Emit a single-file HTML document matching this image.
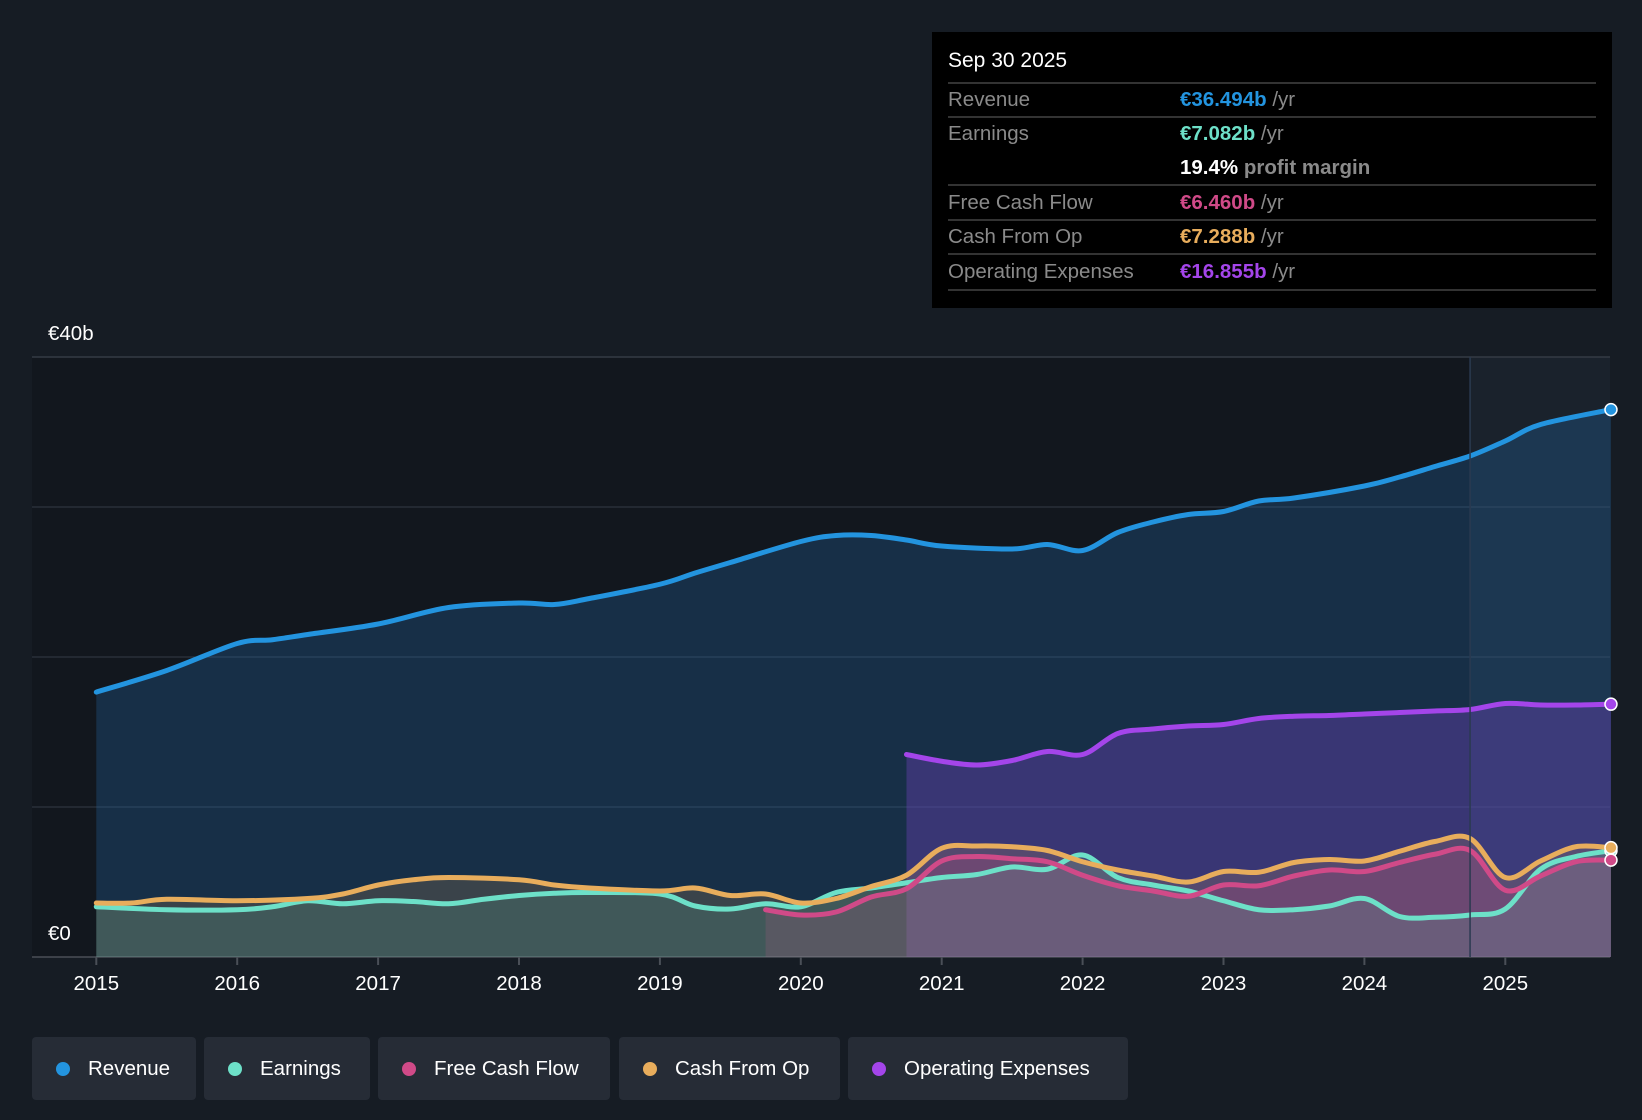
<!DOCTYPE html>
<html><head><meta charset="utf-8"><style>
body{margin:0;width:1642px;height:1120px;background:#161c24;font-family:"Liberation Sans",sans-serif;overflow:hidden;position:relative}
#tip{position:absolute;left:932px;top:32px;width:680px;height:276px;background:#000}
.row{position:absolute;left:16px;width:648px;border-top:2px solid #333;color:#8a8a8a;font-size:20.5px}
.row span.v{position:absolute;left:232px;font-weight:bold}
.yr{color:#8a8a8a;font-weight:normal}
#legend{position:absolute;top:1037px;left:0}
.lg{position:absolute;height:63px;background:#262c36;border-radius:4px;color:#fff;font-size:20.5px;line-height:63px}
.lg i{position:absolute;left:24px;top:25px;width:14px;height:14px;border-radius:50%}
.lg b{position:absolute;left:56px;font-weight:normal}
</style></head><body>
<svg id="chart" width="1642" height="1120" style="position:absolute;left:0;top:0"></svg>
<div id="tip">
<div style="position:absolute;left:16px;top:17px;color:#fff;font-size:21px">Sep 30 2025</div>
<div class="row" style="top:50px;height:32px;line-height:32px">Revenue<span class="v" style="color:#2394df">€36.494b <span class="yr">/yr</span></span></div>
<div class="row" style="top:84px;height:66px;line-height:32px">Earnings<span class="v" style="color:#6de0c8;top:0">€7.082b <span class="yr">/yr</span></span><span class="v" style="color:#fff;top:34px">19.4% <span class="yr" style="font-weight:bold">profit margin</span></span></div>
<div class="row" style="top:152px;height:34px;line-height:34px">Free Cash Flow<span class="v" style="color:#d04a88">€6.460b <span class="yr">/yr</span></span></div>
<div class="row" style="top:187px;height:32px;line-height:32px">Cash From Op<span class="v" style="color:#e8ad5c">€7.288b <span class="yr">/yr</span></span></div>
<div class="row" style="top:221px;height:34px;line-height:34px;border-bottom:2px solid #333">Operating Expenses<span class="v" style="color:#a445ea">€16.855b <span class="yr">/yr</span></span></div>
</div>
<div id="legend">
<div class="lg" style="left:32px;width:164px"><i style="background:#2394df"></i><b>Revenue</b></div>
<div class="lg" style="left:204px;width:166px"><i style="background:#6de0c8"></i><b>Earnings</b></div>
<div class="lg" style="left:378px;width:232px"><i style="background:#d04a88"></i><b>Free Cash Flow</b></div>
<div class="lg" style="left:619px;width:221px"><i style="background:#e8ad5c"></i><b>Cash From Op</b></div>
<div class="lg" style="left:848px;width:280px"><i style="background:#a445ea"></i><b>Operating Expenses</b></div>
</div>
<script>
const revT=[2015,2015.5,2016,2016.25,2016.5,2017,2017.5,2018,2018.25,2018.5,2019,2019.25,2019.5,2020,2020.25,2020.5,2020.75,2021,2021.5,2021.75,2022,2022.25,2022.5,2022.75,2023,2023.25,2023.5,2024,2024.25,2024.5,2024.75,2025,2025.25,2025.75];
const revV=[17.66,19.1,20.9,21.15,21.5,22.2,23.3,23.6,23.5,23.9,24.85,25.6,26.3,27.7,28.1,28.1,27.8,27.4,27.2,27.5,27.1,28.3,29.0,29.5,29.7,30.4,30.6,31.4,32.0,32.7,33.4,34.4,35.5,36.494];
const opxT=[2020.75,2021,2021.25,2021.5,2021.75,2022,2022.25,2022.5,2022.75,2023,2023.25,2023.5,2023.75,2024,2024.25,2024.5,2024.75,2025,2025.25,2025.5,2025.75];
const opxV=[13.5,13.05,12.8,13.1,13.7,13.5,14.9,15.2,15.4,15.5,15.9,16.05,16.1,16.2,16.3,16.4,16.5,16.9,16.8,16.8,16.855];
const earnT=[2015,2015.5,2016,2016.25,2016.5,2016.75,2017,2017.25,2017.5,2017.75,2018,2018.25,2018.5,2019,2019.25,2019.5,2019.75,2020,2020.25,2020.5,2020.75,2021,2021.25,2021.5,2021.75,2022,2022.25,2022.5,2022.75,2023,2023.25,2023.5,2023.75,2024,2024.25,2024.5,2024.75,2025,2025.25,2025.5,2025.75];
const earnV=[3.35,3.15,3.15,3.35,3.75,3.55,3.75,3.7,3.55,3.85,4.1,4.25,4.3,4.2,3.4,3.2,3.55,3.35,4.3,4.6,4.95,5.3,5.5,6.0,5.85,6.8,5.3,4.8,4.4,3.75,3.15,3.15,3.4,3.9,2.7,2.65,2.8,3.2,5.85,6.7,7.082];
const cfoT=[2015,2015.25,2015.5,2016,2016.5,2016.75,2017,2017.25,2017.5,2018,2018.25,2018.5,2019,2019.25,2019.5,2019.75,2020,2020.25,2020.5,2020.75,2021,2021.25,2021.5,2021.75,2022,2022.25,2022.5,2022.75,2023,2023.25,2023.5,2023.75,2024,2024.25,2024.5,2024.75,2025,2025.25,2025.5,2025.75];
const cfoV=[3.6,3.6,3.85,3.75,3.9,4.2,4.8,5.15,5.3,5.15,4.8,4.6,4.4,4.6,4.1,4.2,3.6,3.9,4.7,5.45,7.25,7.4,7.35,7.1,6.35,5.8,5.4,5.0,5.7,5.65,6.3,6.5,6.4,7.05,7.7,7.9,5.3,6.4,7.35,7.288];
const fcfT=[2019.75,2020,2020.25,2020.5,2020.75,2021,2021.25,2021.5,2021.75,2022,2022.25,2022.5,2022.75,2023,2023.25,2023.5,2023.75,2024,2024.25,2024.5,2024.75,2025,2025.25,2025.5,2025.75];
const fcfV=[3.15,2.8,3.0,4.0,4.55,6.4,6.7,6.55,6.35,5.45,4.75,4.4,4.05,4.8,4.75,5.4,5.8,5.7,6.3,6.85,7.1,4.45,5.4,6.35,6.46];
const xTicks=[2015,2016,2017,2018,2019,2020,2021,2022,2023,2024,2025];
const yGrid=[0,10,20,30,40];

const L=32,R=1610,T=357,B=957;
const X=t=>96.3+(t-2015)*140.9;
const Y=v=>B-v/40*(B-T);
const svg=document.getElementById('chart');const NS='http://www.w3.org/2000/svg';
function mk(tag,attrs,name){const e=document.createElementNS(NS,tag);for(const k in attrs)e.setAttribute(k,attrs[k]);


svg.appendChild(e);return e;}
mk('rect',{x:L,y:T,width:X(2024.75)-L,height:B-T,fill:'#12171e'},'plot-background');
mk('rect',{x:X(2024.75),y:T,width:R-X(2024.75),height:B-T,fill:'#1a222c'},'forecast-highlight');
yGrid.forEach(v=>{mk('line',{x1:L,x2:R,y1:Y(v),y2:Y(v),stroke:v==0?'#4a4f57':'#343b45','stroke-width':v==0||v==40?1.5:1},'gridline-'+v);});
function path(ts,vs){const p=ts.map((t,i)=>[X(t),Y(vs[i])]);let d='M'+p[0][0]+','+p[0][1];
for(let i=0;i<p.length-1;i++){const p0=p[Math.max(0,i-1)],p1=p[i],p2=p[i+1],p3=p[Math.min(p.length-1,i+2)];
const c1=[p1[0]+(p2[0]-p0[0])/6,p1[1]+(p2[1]-p0[1])/6],c2=[p2[0]-(p3[0]-p1[0])/6,p2[1]-(p3[1]-p1[1])/6];
d+=' C'+c1[0]+','+c1[1]+' '+c2[0]+','+c2[1]+' '+p2[0]+','+p2[1];}return d;}
const series=[['revenue',revT,revV,'#2394df','rgba(35,110,180,0.28)'],['opex',opxT,opxV,'#a445ea','rgba(120,70,200,0.35)'],['cfo',cfoT,cfoV,'#e8ad5c','rgba(200,150,90,0.2)'],['fcf',fcfT,fcfV,'#d04a88','rgba(200,70,130,0.2)'],['earnings',earnT,earnV,'#6de0c8','rgba(100,200,170,0.16)']];
series.forEach(s=>{const d=path(s[1],s[2]);mk('path',{d:d+' L'+X(s[1][s[1].length-1])+','+B+' L'+X(s[1][0])+','+B+' Z',fill:s[4]},s[0]+'-area');});
[series[0],series[1],series[4],series[3],series[2]].forEach(s=>{mk('path',{d:path(s[1],s[2]),fill:'none',stroke:s[3],'stroke-width':5,'stroke-linecap':'round'},s[0]+'-line');
const n=s[1].length-1;mk('circle',{cx:X(s[1][n]),cy:Y(s[2][n]),r:6,fill:s[3],stroke:'#fff','stroke-width':1.5},s[0]+'-end-dot');});
mk('line',{x1:X(2024.75),x2:X(2024.75),y1:T,y2:B,stroke:'#2a3a50','stroke-width':1.5},'forecast-divider');
xTicks.forEach(t=>{mk('line',{x1:X(t),x2:X(t),y1:B,y2:B+8,stroke:'#4a4f57','stroke-width':2},'x-tick-'+t);
const e=mk('text',{x:X(t),y:B+33,fill:'#fff','font-size':20.5,'text-anchor':'middle','font-family':'Liberation Sans, sans-serif'},'x-label-'+t);e.textContent=t;});
const y40=mk('text',{x:48,y:340,fill:'#fff','font-size':20.5,'font-family':'Liberation Sans, sans-serif'},'y-label-40b');y40.textContent='€40b';
const y0=mk('text',{x:48,y:940,fill:'#fff','font-size':20.5,'font-family':'Liberation Sans, sans-serif'},'y-label-0');y0.textContent='€0';
</script>
</body></html>
